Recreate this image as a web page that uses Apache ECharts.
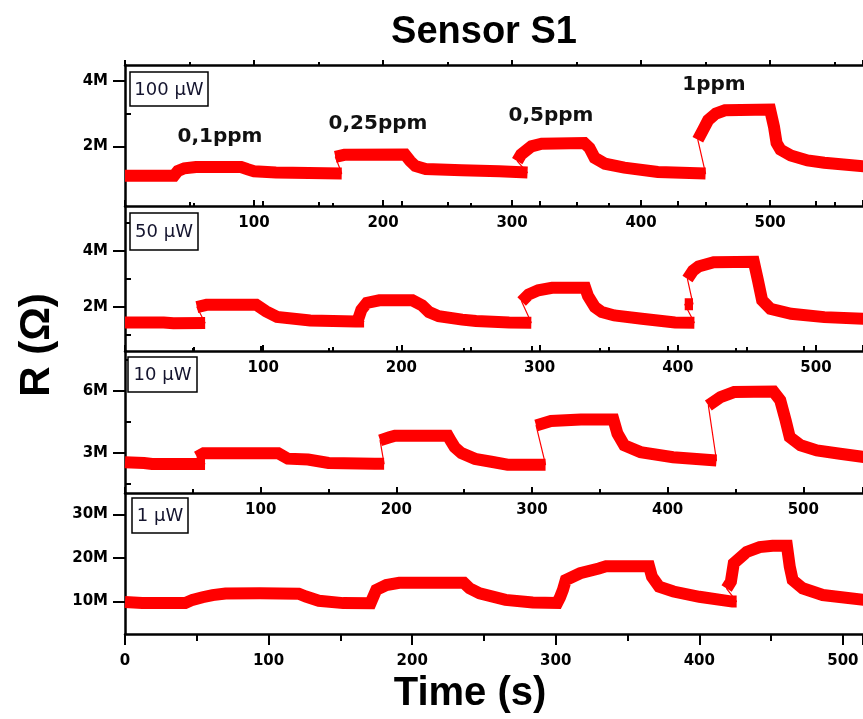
<!DOCTYPE html>
<html>
<head>
<meta charset="utf-8">
<script src="https://cdn.jsdelivr.net/npm/echarts@6/dist/echarts.min.js"></script>
<style>
  html, body { margin: 0; padding: 0; background: #fff; }
  #chart { width: 863px; height: 719px; }
</style>
</head>
<body>
<div id="chart"></div>
<script>
// resistance traces, [time (s), R (MΩ)], [t, null] breaks the thick trace
const s100uW = [
  [0, 1.10], [38, 1.10], [41, 1.25], [46, 1.33], [55, 1.37], [90, 1.37], [95, 1.30], [100, 1.24], [117, 1.20], [168, 1.17], [168, null],
  [163, 1.68], [170, 1.74], [217, 1.75], [221, 1.55], [225, 1.40], [233, 1.31], [261, 1.27], [290, 1.24], [312, 1.20], [312, null],
  [304, 1.55], [307, 1.75], [315, 2.00], [323, 2.08], [356, 2.10], [360, 1.95], [364, 1.65], [372, 1.47], [387, 1.35], [413, 1.22], [450, 1.17], [450, null],
  [444, 2.20], [448, 2.50], [452, 2.80], [458, 3.00], [465, 3.10], [500, 3.12], [503, 2.60], [505, 2.10], [508, 1.90], [516, 1.72], [529, 1.57], [542, 1.50], [573, 1.39]
]
const s50uW = [
  [0, 1.45], [28, 1.45], [35, 1.42], [58, 1.43], [58, null],
  [52, 2.00], [59, 2.08], [95, 2.08], [102, 1.85], [110, 1.65], [134, 1.52], [167, 1.48], [173, 1.48], [173, null],
  [169, 1.60], [171, 1.90], [175, 2.15], [184, 2.24], [208, 2.24], [215, 2.06], [220, 1.82], [227, 1.67], [244, 1.55], [254, 1.50], [278, 1.45], [294, 1.44], [294, null],
  [287, 2.20], [292, 2.45], [299, 2.60], [309, 2.69], [333, 2.69], [335, 2.40], [340, 2.00], [345, 1.82], [354, 1.70], [374, 1.58], [398, 1.45], [412, 1.44], [412, null],
  [405, 2.10], [411, 2.10], [411, null],
  [407, 3.00], [411, 3.30], [415, 3.45], [426, 3.60], [455, 3.62], [458, 2.95], [461, 2.24], [467, 1.94], [482, 1.76], [506, 1.64], [535, 1.58]
]
const s10uW = [
  [0, 2.54], [14, 2.50], [20, 2.45], [59, 2.45], [59, null],
  [53, 2.79], [58, 2.97], [113, 2.97], [120, 2.71], [135, 2.67], [150, 2.50], [184, 2.46], [191, 2.46], [191, null],
  [188, 3.60], [195, 3.75], [199, 3.83], [238, 3.83], [240, 3.60], [243, 3.27], [248, 2.98], [258, 2.70], [270, 2.56], [282, 2.42], [310, 2.42], [310, null],
  [303, 4.33], [314, 4.54], [336, 4.62], [360, 4.62], [363, 3.93], [368, 3.36], [380, 3.03], [404, 2.78], [436, 2.62], [436, null],
  [430, 5.30], [439, 5.71], [449, 5.95], [478, 5.98], [483, 5.55], [487, 4.57], [490, 3.76], [498, 3.36], [510, 3.11], [527, 2.95], [545, 2.79]
]
const s1uW = [
  [0, 9.9], [12, 9.7], [42, 9.7], [47, 10.4], [54, 11.0], [61, 11.5], [70, 11.85], [94, 11.9], [121, 11.8], [126, 11.15], [135, 10.2], [152, 9.65], [171, 9.6],
  [172, 10.4], [175, 12.7], [182, 13.8], [191, 14.3], [198, 14.3], [236, 14.3], [240, 13.05], [247, 11.9], [265, 10.4], [284, 9.8], [301, 9.7],
  [303, 11.0], [305, 12.7], [307, 14.95], [317, 16.5], [330, 17.6], [335, 18.1], [365, 18.1], [367, 15.7], [372, 13.4], [382, 12.3], [400, 11.1], [423, 10.0], [426, 10.0], [426, null],
  [419, 13.0], [422, 14.6], [424, 18.8], [433, 21.4], [442, 22.5], [451, 22.8], [461, 22.8], [463, 18.0], [465, 14.95], [472, 13.05], [486, 11.5], [515, 10.4]
]

// tick values (MΩ) and labels
const powerLabels = ['100 μW', '50 μW', '10 μW', '1 μW']
const yMajorTicks = [[2, 4], [2, 4], [3, 6], [10, 20, 30]]
const yMinorTicks = [[1, 3], [1, 3, 5], [1.5, 4.5, 7.5], [5, 15, 25]]
const yRanges = [[0.18, 4.48], [0.43, 5.61], [1.04, 7.95], [2.57, 34.9]]
const xMaxes = [572, 534, 544, 514]
const xTickStep = 100
const ppmLabels = ['0,1ppm', '0,25ppm', '0,5ppm', '1ppm']

// layout (px)
const panelTops = [65, 206, 351, 493]
const panelHeights = [141, 145, 142, 141]
const boxRects = [[130, 72, 78, 34], [130, 213, 68, 37], [128, 357, 69, 35], [132, 498, 56, 35]]
const ppmPos = [[220, 137], [378, 124], [551, 116], [714, 85]]

const RED = '#ff0000'
const BLACK = '#000'
const tickFont = { fontFamily: 'DejaVu Sans', fontWeight: 'bold', fontSize: 15, color: BLACK }
const traces = [s100uW, s50uW, s10uW, s1uW]

const grid = []
const xAxis = []
const yAxis = []
const series = []
const graphic = []

traces.forEach((data, i) => {
  const last = i === traces.length - 1
  grid.push({ left: 125, top: panelTops[i], height: panelHeights[i], right: 0 })

  const xIdx = xAxis.length
  xAxis.push({
    gridIndex: i, type: 'value', min: 0, max: xMaxes[i], interval: xTickStep,
    axisLine: { lineStyle: { color: BLACK, width: 2.5 } },
    axisTick: { inside: !last, length: last ? 11 : 6, lineStyle: { color: BLACK, width: 2 } },
    minorTick: { show: true, splitNumber: 2, length: last ? 7 : 4, lineStyle: { color: BLACK, width: 2 } },
    axisLabel: { ...tickFont, showMinLabel: last, showMaxLabel: false, margin: last ? 20 : 10 },
    splitLine: { show: false }
  })
  if (!last) {
    // ticks crossing the shared border
    xAxis.push({
      gridIndex: i, type: 'value', min: 0, max: xMaxes[i], interval: xTickStep,
      axisLine: { show: false },
      axisTick: { inside: false, length: 5, lineStyle: { color: BLACK, width: 2 } },
      minorTick: { show: true, splitNumber: 2, length: 3, lineStyle: { color: BLACK, width: 2 } },
      axisLabel: { show: false },
      splitLine: { show: false }
    })
  }
  if (i === 0) {
    // top frame line
    xAxis.push({
      gridIndex: i, type: 'value', position: 'top', min: 0, max: xMaxes[i],
      axisLine: { lineStyle: { color: BLACK, width: 2.5 } },
      axisTick: { show: false }, axisLabel: { show: false }, splitLine: { show: false }
    })
  }

  const yIdx = yAxis.length
  yAxis.push({
    gridIndex: i, type: 'value', min: yRanges[i][0], max: yRanges[i][1],
    axisLine: { show: true, lineStyle: { color: BLACK, width: 2.5 } },
    axisTick: { show: true, length: 12, customValues: yMajorTicks[i], lineStyle: { color: BLACK, width: 2 } },
    axisLabel: { ...tickFont, customValues: yMajorTicks[i], formatter: v => v + 'M', margin: 17 },
    splitLine: { show: false }
  })
  yAxis.push({
    gridIndex: i, type: 'value', min: yRanges[i][0], max: yRanges[i][1],
    axisLine: { show: false },
    axisTick: { show: true, length: 6, customValues: yMinorTicks[i], lineStyle: { color: BLACK, width: 2 } },
    axisLabel: { show: false },
    splitLine: { show: false }
  })

  // thin connector under the thick trace
  series.push({
    type: 'line', xAxisIndex: xIdx, yAxisIndex: yIdx, data,
    connectNulls: true, symbol: 'none', silent: true, z: 2,
    lineStyle: { color: RED, width: 1.2 }
  })
  series.push({
    type: 'line', xAxisIndex: xIdx, yAxisIndex: yIdx, data,
    connectNulls: false, symbol: 'none', silent: true, z: 3,
    lineStyle: { color: RED, width: 12, cap: 'butt', join: 'miter' }
  })

  const [bx, by, bw, bh] = boxRects[i]
  graphic.push({
    type: 'rect', shape: { x: bx, y: by, width: bw, height: bh }, z: 10,
    style: { fill: '#fff', stroke: BLACK, lineWidth: 1.5 }
  })
  graphic.push({
    type: 'text', x: bx + bw / 2, y: by + bh / 2 + 1, z: 11,
    style: {
      text: powerLabels[i], font: '18px "DejaVu Sans"', fill: '#14142e',
      align: 'center', verticalAlign: 'middle', textAlign: 'center', textVerticalAlign: 'middle'
    }
  })
})

ppmLabels.forEach((t, k) => {
  graphic.push({
    type: 'text', x: ppmPos[k][0], y: ppmPos[k][1], z: 11,
    style: {
      text: t, font: 'bold 20px "DejaVu Sans"', fill: '#111',
      align: 'center', verticalAlign: 'middle', textAlign: 'center', textVerticalAlign: 'middle'
    }
  })
})

const bigText = (text, x, y, size, rotation) => ({
  type: 'text', x, y, rotation: rotation || 0, z: 11,
  style: {
    text, font: 'bold ' + size + 'px "Liberation Sans"', fill: BLACK,
    align: 'center', verticalAlign: 'middle', textAlign: 'center', textVerticalAlign: 'middle'
  }
})
graphic.push(bigText('Sensor S1', 484, 33, 38))
graphic.push(bigText('R (Ω)', 37, 345, 42, Math.PI / 2))
graphic.push(bigText('Time (s)', 470, 694, 40))

const chart = echarts.init(document.getElementById('chart'))
chart.setOption({
  animation: false,
  backgroundColor: '#fff',
  grid, xAxis, yAxis, series, graphic
})
</script>
</body>
</html>
